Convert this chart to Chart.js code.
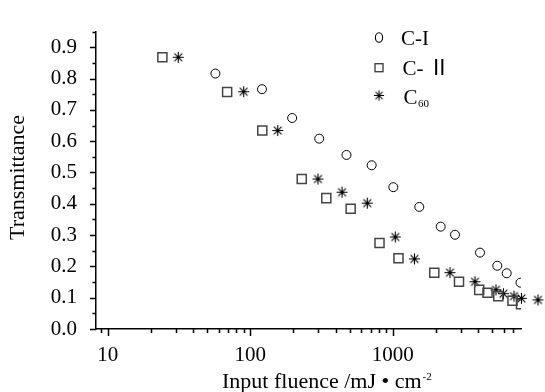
<!DOCTYPE html>
<html>
<head>
<meta charset="utf-8">
<script src="https://cdn.jsdelivr.net/npm/chart.js@4/dist/chart.umd.min.js"></script>
<style>
  html, body { margin: 0; padding: 0; background: #fff; }
  #chart { display: block; }
</style>
</head>
<body>
<canvas id="chart" width="545" height="392"></canvas>
<script>
// values
const fluenceC1 = [57, 121, 197, 305, 474, 712, 1010, 1537, 2172, 2736, 4099, 5420, 6310, 7885];
const transC1 = [0.816, 0.766, 0.674, 0.608, 0.556, 0.523, 0.453, 0.390, 0.327, 0.301, 0.244, 0.202, 0.178, 0.148];

const fluenceC2 = [24.2, 68.9, 121.6, 230, 342, 507, 808, 1098, 1958, 2920, 4046, 4627, 5509, 6928, 7950];
const transC2 = [0.868, 0.757, 0.634, 0.479, 0.418, 0.384, 0.275, 0.226, 0.180, 0.151, 0.125, 0.116, 0.105, 0.090, 0.079];

const fluenceC60 = [31.3, 90, 156, 299, 441, 663, 1043, 1422, 2524, 3780, 5308, 5991, 7098, 8014, 10460];
const transC60 = [0.868, 0.758, 0.634, 0.479, 0.437, 0.402, 0.294, 0.224, 0.180, 0.151, 0.125, 0.113, 0.105, 0.098, 0.093];

const xTickValues = [10, 100, 1000];
const yTickValues = [0, 0.1, 0.2, 0.3, 0.4, 0.5, 0.6, 0.7, 0.8, 0.9];

const serif = "'Liberation Serif', 'Times New Roman', 'Noto Sans CJK SC', serif";

const toPoints = (xs, ys) => xs.map((x, i) => ({ x: x, y: ys[i] }));

// asterisk marker drawn once on a small canvas
function makeAsterisk(size) {
    const c = document.createElement('canvas');
    c.width = size;
    c.height = size;
    const g = c.getContext('2d');
    const m = size / 2;
    const r = m - 1;
    g.strokeStyle = '#000';
    g.lineWidth = 1.1;
    g.beginPath();
    for (let k = 0; k < 4; k++) {
        const a = k * Math.PI / 4;
        g.moveTo(m - r * Math.cos(a), m - r * Math.sin(a));
        g.lineTo(m + r * Math.cos(a), m + r * Math.sin(a));
    }
    g.stroke();
    g.fillStyle = '#000';
    g.beginPath();
    g.arc(m, m, 1.4, 0, Math.PI * 2);
    g.fill();
    return c;
}
const asterisk = makeAsterisk(13);

// tick marks (major + minor) drawn outside the axes
const tickMarks = {
    id: 'tickMarks',
    afterDraw(chart) {
        const ctx = chart.ctx;
        const xs = chart.scales.x;
        const ys = chart.scales.y;
        const area = chart.chartArea;
        ctx.save();
        ctx.strokeStyle = '#000';
        ctx.lineWidth = 1.5;
        ctx.beginPath();
        for (let i = 0; i <= 19; i++) {
            const v = i * 0.05;
            if (v > ys.max + 1e-9) break;
            const py = Math.round(ys.getPixelForValue(v)) + 0.5;
            const len = i % 2 === 0 ? 6 : 3.5;
            ctx.moveTo(area.left, py);
            ctx.lineTo(area.left - len, py);
        }
        for (let k = 0; k <= 3; k++) {
            for (let d = 1; d <= 9; d++) {
                const v = d * Math.pow(10, k);
                if (v < xs.min || v > xs.max) continue;
                const px = Math.round(xs.getPixelForValue(v)) + 0.5;
                const len = d === 1 ? 7 : 4;
                ctx.moveTo(px, area.bottom);
                ctx.lineTo(px, area.bottom + len);
            }
        }
        // the 9 below the first decade
        if (9 >= xs.min) {
            const px = Math.round(xs.getPixelForValue(9)) + 0.5;
            ctx.moveTo(px, area.bottom);
            ctx.lineTo(px, area.bottom + 4);
        }
        ctx.stroke();
        ctx.restore();
    }
};

// axis titles and the in-plot legend
const annotations = {
    id: 'annotations',
    afterDraw(chart) {
        const ctx = chart.ctx;
        ctx.save();
        ctx.fillStyle = '#000';
        ctx.textBaseline = 'alphabetic';

        // y title
        ctx.save();
        ctx.translate(23.5, 177.5);
        ctx.rotate(-Math.PI / 2);
        ctx.font = '22px ' + serif;
        ctx.textAlign = 'center';
        ctx.fillText('Transmittance', 0, 0);
        ctx.restore();

        // x title with superscript
        ctx.font = '22px ' + serif;
        ctx.textAlign = 'left';
        const main = 'Input fluence /mJ \u2022 cm';
        const x0 = 222;
        ctx.fillText(main, x0, 388);
        const w = ctx.measureText(main).width;
        ctx.font = '11px ' + serif;
        ctx.fillText('-2', x0 + w + 1, 380);

        // legend
        const lx = 379;
        ctx.lineWidth = 1.1;
        ctx.strokeStyle = '#000';
        ctx.beginPath();
        ctx.ellipse(lx, 37.5, 3.6, 4.8, 0, 0, Math.PI * 2);
        ctx.stroke();
        ctx.strokeStyle = '#444';
        ctx.lineWidth = 1.4;
        ctx.strokeRect(lx - 4, 63.7, 8, 8);
        ctx.drawImage(asterisk, lx - 6, 89.5, 12, 12);

        ctx.font = '21px ' + serif;
        ctx.fillText('C-I', 401, 45);
        ctx.fillText('C- \u2161', 402.5, 75);
        ctx.fillText('C', 403.5, 103.5);
        const cw = ctx.measureText('C').width;
        ctx.font = '11px ' + serif;
        ctx.fillText('60', 403.5 + cw + 0.5, 106.5);
        ctx.restore();
    }
};

new Chart(document.getElementById('chart'), {
    type: 'scatter',
    data: {
        datasets: [
            {
                label: 'C-I',
                data: toPoints(fluenceC1, transC1),
                pointStyle: 'circle',
                radius: 4.5,
                borderWidth: 1,
                borderColor: '#000',
                backgroundColor: 'rgba(0,0,0,0)',
                clip: 0
            },
            {
                label: 'C-II',
                data: toPoints(fluenceC2, transC2),
                pointStyle: 'rect',
                radius: 6.4,
                borderWidth: 1.5,
                borderColor: '#444',
                backgroundColor: 'rgba(0,0,0,0)',
                clip: 0
            },
            {
                label: 'C60',
                // reversed so the last point past the axis end is still drawn
                data: toPoints(fluenceC60, transC60).reverse(),
                pointStyle: asterisk,
                radius: 22,
                borderWidth: 0,
                clip: false
            }
        ]
    },
    options: {
        responsive: false,
        animation: false,
        events: [],
        layout: { padding: { top: 14, right: 24, left: 0, bottom: 0 } },
        plugins: {
            legend: { display: false },
            tooltip: { enabled: false }
        },
        scales: {
            x: {
                type: 'logarithmic',
                min: 8.28,
                max: 7950,
                grid: { display: false, drawTicks: false },
                border: { display: true, color: '#000', width: 1.5 },
                ticks: {
                    color: '#000',
                    font: { family: serif, size: 21 },
                    padding: 14,
                    maxRotation: 0,
                    autoSkip: false,
                    callback: v => String(v)
                },
                afterBuildTicks: scale => {
                    scale.ticks = xTickValues.map(v => ({ value: v }));
                },
                afterFit: scale => { scale.height = 63; }
            },
            y: {
                type: 'linear',
                min: 0,
                max: 0.95,
                grid: { display: false, drawTicks: false },
                border: { display: true, color: '#000', width: 1.5 },
                ticks: {
                    color: '#000',
                    font: { family: serif, size: 21 },
                    padding: 19,
                    callback: v => v.toFixed(1)
                },
                afterBuildTicks: scale => {
                    scale.ticks = yTickValues.map(v => ({ value: v }));
                },
                afterFit: scale => { scale.width = 96; }
            }
        }
    },
    plugins: [tickMarks, annotations]
});
</script>
</body>
</html>
